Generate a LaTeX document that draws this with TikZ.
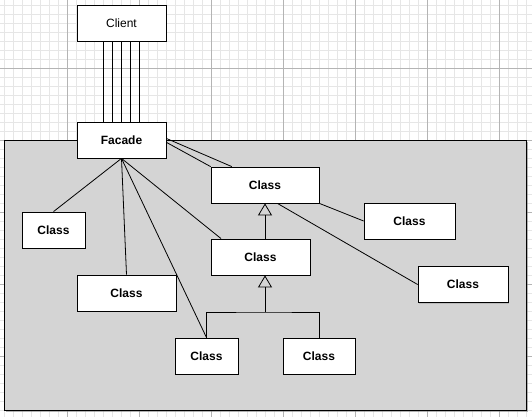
\documentclass[tikz,border=0pt]{standalone}
\usepackage{fontspec}
\setmainfont{Liberation Sans}
\usetikzlibrary{arrows.meta,shadows}

\definecolor{minorgrid}{HTML}{E6E6E6}
\definecolor{majorgrid}{HTML}{B4B4B4}
\definecolor{panel}{HTML}{D4D4D4}

\begin{document}
\begin{tikzpicture}[x=1pt,y=-1pt,line width=0.8pt,
    box/.style={draw,fill=white,minimum height=36pt,inner sep=0pt,font=\fontsize{12}{14}\selectfont\bfseries,
        drop shadow={opacity=0.3,shadow xshift=1.2pt,shadow yshift=-1.2pt}},
    inherit/.style={-{Triangle[open,length=12pt,width=14pt]}}]
\useasboundingbox (0,0) rectangle (532,417);
\fill[white] (0,0) rectangle (532,417);
\draw[minorgrid,line width=0.6pt,step=9pt,shift={(4,5)}] (-4,-5) grid (528,412);
\draw[majorgrid,line width=0.8pt,step=72pt,shift={(67,68)}] (-67,-68) grid (465,349);
\draw[fill=panel,drop shadow={opacity=0.6,shadow xshift=1.5pt,shadow yshift=-1.5pt}] (4,140) rectangle (526,410);

\node[box,minimum width=89pt,font=\fontsize{12}{14}\selectfont] (client) at (121.5,23) {Client};
\node[box,minimum width=89pt] (facade) at (121.5,140) {Facade};
\node[box,minimum width=108pt] (base) at (265,185) {Class};
\node[box,minimum width=91pt] (helper) at (409.5,221) {Class};
\node[box,minimum width=99pt] (sub) at (260.5,257) {Class};
\node[box,minimum width=90pt] (far) at (463,284.5) {Class};
\node[box,minimum width=63pt] (leafa) at (206.5,356) {Class};
\node[box,minimum width=72pt] (leafb) at (319,356) {Class};
\node[box,minimum width=63pt] (left) at (53.5,230) {Class};
\node[box,minimum width=99pt] (low) at (126.5,293) {Class};
\coordinate (fork) at (265,312);

\foreach \dx in {-18,-9,0,9,18}
    \draw ([xshift=\dx pt]client.south) -- ([xshift=\dx pt]facade.north);

\draw (facade.south) -- (left.north);
\draw (facade.south) -- (low.north);
\draw (facade.south) -- (leafa.north);
\draw (facade.south) -- (sub.155);
\draw (facade.2) -- (base.151);
\draw (facade.-3) -- (base.north west);
\draw (base.south east) -- (helper.west);
\draw (base.-56) -- (far.west);

\draw[inherit] (sub.north -| base.south) -- (base.south);
\draw (leafa.north) |- (fork) -| (leafb.north);
\draw[inherit] (fork) -- (fork |- sub.south);
\end{tikzpicture}
\end{document}
